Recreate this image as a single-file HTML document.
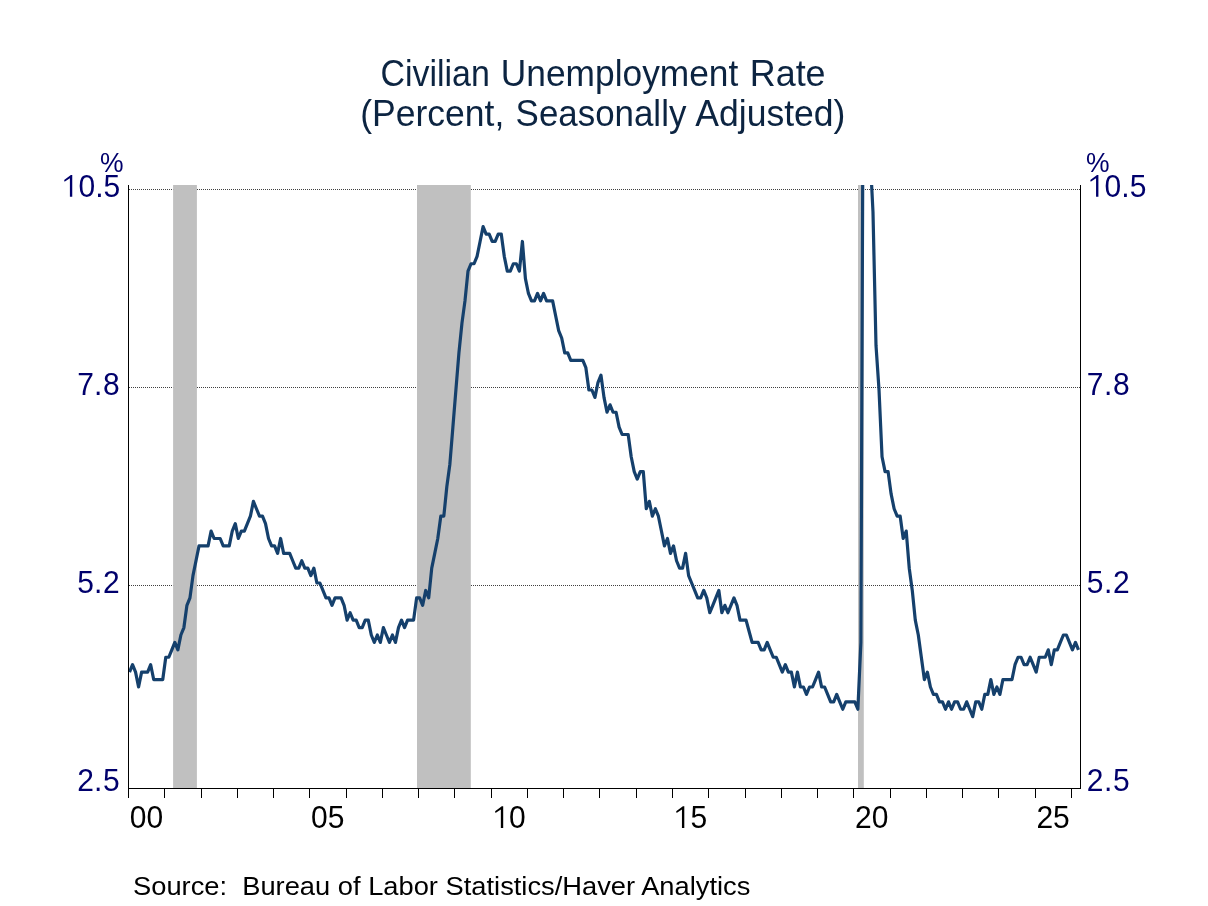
<!DOCTYPE html>
<html><head><meta charset="utf-8"><style>
html,body{margin:0;padding:0;background:#fff;width:1208px;height:906px;overflow:hidden}
svg{display:block;will-change:transform;font-family:"Liberation Sans",sans-serif}
</style></head><body>
<svg width="1208" height="906" viewBox="0 0 1208 906">
<rect width="1208" height="906" fill="#fff"/>
<g fill="#0c2441" font-size="35.4"><text transform="translate(380.38,85.7) scale(0.9591,1.05)">Civilian</text><text transform="translate(500.80,85.7) scale(0.9979,1.05)">Unemployment</text><text transform="translate(749.76,85.7) scale(1.0143,1.05)">Rate</text><text transform="translate(360.19,126.3) scale(1.0036,1.05)">(Percent,</text><text transform="translate(515.61,126.3) scale(0.9860,1.05)">Seasonally</text><text transform="translate(695.30,126.3) scale(1.0041,1.05)">Adjusted)</text></g>
<g stroke="#404040" stroke-width="1" stroke-dasharray="1 1" fill="none"><line x1="129" y1="189.5" x2="1080" y2="189.5"/><line x1="129" y1="387.5" x2="1080" y2="387.5"/><line x1="129" y1="585.5" x2="1080" y2="585.5"/></g>
<g fill="#c0c0c0">
<rect x="173.1" y="185" width="23.8" height="603"/>
<rect x="417.0" y="185" width="53.8" height="603"/>
<rect x="858.0" y="185" width="5.8" height="603"/>
</g>
<clipPath id="c"><rect x="128" y="185" width="953" height="603"/></clipPath>
<polyline clip-path="url(#c)" points="129.51,672.12 132.53,664.70 135.56,672.12 138.58,686.98 141.60,672.12 144.62,672.12 147.64,672.12 150.67,664.70 153.69,679.55 156.71,679.55 159.73,679.55 162.76,679.55 165.78,657.27 168.80,657.27 171.82,649.85 174.84,642.42 177.87,649.85 180.89,635.00 183.91,627.58 186.93,605.30 189.96,597.88 192.98,575.60 196.00,560.75 199.02,545.90 202.04,545.90 205.07,545.90 208.09,545.90 211.11,531.05 214.13,538.48 217.16,538.48 220.18,538.48 223.20,545.90 226.22,545.90 229.24,545.90 232.27,531.05 235.29,523.62 238.31,538.48 241.33,531.05 244.36,531.05 247.38,523.62 250.40,516.20 253.42,501.35 256.44,508.77 259.47,516.20 262.49,516.20 265.51,523.62 268.53,538.48 271.56,545.90 274.58,545.90 277.60,553.33 280.62,538.48 283.64,553.33 286.67,553.33 289.69,553.33 292.71,560.75 295.73,568.17 298.76,568.17 301.78,560.75 304.80,568.17 307.82,568.17 310.84,575.60 313.87,568.17 316.89,583.02 319.91,583.02 322.93,590.45 325.96,597.88 328.98,597.88 332.00,605.30 335.02,597.88 338.04,597.88 341.07,597.88 344.09,605.30 347.11,620.15 350.13,612.73 353.16,620.15 356.18,620.15 359.20,627.58 362.22,627.58 365.24,620.15 368.27,620.15 371.29,635.00 374.31,642.42 377.33,635.00 380.36,642.42 383.38,627.58 386.40,635.00 389.42,642.42 392.44,635.00 395.47,642.42 398.49,627.58 401.51,620.15 404.53,627.58 407.56,620.15 410.58,620.15 413.60,620.15 416.62,597.88 419.64,597.88 422.67,605.30 425.69,590.45 428.71,597.88 431.73,568.17 434.76,553.33 437.78,538.48 440.80,516.20 443.82,516.20 446.84,486.50 449.87,464.23 452.89,427.10 455.91,389.98 458.93,352.85 461.96,323.15 464.98,300.88 468.00,271.17 471.02,263.75 474.04,263.75 477.07,256.33 480.09,241.47 483.11,226.62 486.13,234.05 489.16,234.05 492.18,241.47 495.20,241.47 498.22,234.05 501.24,234.05 504.27,256.33 507.29,271.17 510.31,271.17 513.33,263.75 516.36,263.75 519.38,271.17 522.40,241.47 525.42,278.60 528.44,293.45 531.47,300.88 534.49,300.88 537.51,293.45 540.53,300.88 543.56,293.45 546.58,300.88 549.60,300.88 552.62,300.88 555.64,315.72 558.67,330.58 561.69,338.00 564.71,352.85 567.73,352.85 570.76,360.28 573.78,360.28 576.80,360.28 579.82,360.28 582.84,360.28 585.87,367.70 588.89,389.98 591.91,389.98 594.93,397.40 597.96,382.55 600.98,375.12 604.00,397.40 607.02,412.25 610.04,404.83 613.07,412.25 616.09,412.25 619.11,427.10 622.13,434.52 625.16,434.52 628.18,434.52 631.20,456.80 634.22,471.65 637.24,479.08 640.27,471.65 643.29,471.65 646.31,508.77 649.33,501.35 652.36,516.20 655.38,508.77 658.40,516.20 661.42,531.05 664.44,545.90 667.47,538.48 670.49,553.33 673.51,545.90 676.53,560.75 679.56,568.17 682.58,568.17 685.60,553.33 688.62,575.60 691.64,583.02 694.67,590.45 697.69,597.88 700.71,597.88 703.73,590.45 706.76,597.88 709.78,612.73 712.80,605.30 715.82,597.88 718.84,590.45 721.87,612.73 724.89,605.30 727.91,612.73 730.93,605.30 733.96,597.88 736.98,605.30 740.00,620.15 743.02,620.15 746.04,620.15 749.07,631.29 752.09,642.42 755.11,642.42 758.13,642.42 761.16,649.85 764.18,649.85 767.20,642.42 770.22,649.85 773.24,657.27 776.27,657.27 779.29,664.70 782.31,672.12 785.33,664.70 788.36,672.12 791.38,672.12 794.40,686.98 797.42,672.12 800.44,686.98 803.47,686.98 806.49,694.40 809.51,686.98 812.53,686.98 815.56,679.55 818.58,672.12 821.60,686.98 824.62,686.98 827.64,694.40 830.67,701.83 833.69,701.83 836.71,694.40 839.73,701.83 842.76,709.25 845.78,701.83 848.80,701.83 851.82,701.83 854.84,701.83 857.87,709.25 860.89,642.42 863.91,-129.78 866.93,-10.97 869.96,152.38 872.98,211.78 876.00,345.42 879.02,389.98 882.04,456.80 885.07,471.65 888.09,471.65 891.11,493.92 894.13,508.77 897.16,516.20 900.18,516.20 903.20,538.48 906.22,531.05 909.24,568.17 912.27,590.45 915.29,620.15 918.31,635.00 921.33,657.27 924.36,679.55 927.38,672.12 930.40,686.98 933.42,694.40 936.44,694.40 939.47,701.83 942.49,701.83 945.51,709.25 948.53,701.83 951.56,709.25 954.58,701.83 957.60,701.83 960.62,709.25 963.64,709.25 966.67,701.83 969.69,709.25 972.71,716.67 975.73,701.83 978.76,701.83 981.78,709.25 984.80,694.40 987.82,694.40 990.84,679.55 993.87,694.40 996.89,686.98 999.91,694.40 1002.93,679.55 1005.96,679.55 1008.98,679.55 1012.00,679.55 1015.02,664.70 1018.04,657.27 1021.07,657.27 1024.09,664.70 1027.11,664.70 1030.13,657.27 1033.16,664.70 1036.18,672.12 1039.20,657.27 1042.22,657.27 1045.24,657.27 1048.27,649.85 1051.29,664.70 1054.31,649.85 1057.33,649.85 1060.36,642.42 1063.38,635.00 1066.40,635.00 1069.42,642.42 1072.44,649.85 1075.47,642.42 1078.49,649.85" fill="none" stroke="#15406c" stroke-width="3.2" stroke-linejoin="round"/>
<g stroke="#000" stroke-width="1" shape-rendering="crispEdges">
<line x1="128.5" y1="185" x2="128.5" y2="798"/>
<line x1="1080.5" y1="185" x2="1080.5" y2="789"/>
<line x1="128" y1="788.5" x2="1081" y2="788.5"/>
</g>
<g stroke="#000" stroke-width="1" shape-rendering="crispEdges" transform="translate(0.5,0)"><line x1="164.27" y1="789" x2="164.27" y2="798"/><line x1="200.53" y1="789" x2="200.53" y2="798"/><line x1="236.80" y1="789" x2="236.80" y2="798"/><line x1="273.07" y1="789" x2="273.07" y2="798"/><line x1="309.33" y1="789" x2="309.33" y2="798"/><line x1="345.60" y1="789" x2="345.60" y2="798"/><line x1="381.87" y1="789" x2="381.87" y2="798"/><line x1="418.13" y1="789" x2="418.13" y2="798"/><line x1="454.40" y1="789" x2="454.40" y2="798"/><line x1="490.67" y1="789" x2="490.67" y2="798"/><line x1="526.93" y1="789" x2="526.93" y2="798"/><line x1="563.20" y1="789" x2="563.20" y2="798"/><line x1="599.47" y1="789" x2="599.47" y2="798"/><line x1="635.73" y1="789" x2="635.73" y2="798"/><line x1="672.00" y1="789" x2="672.00" y2="798"/><line x1="708.27" y1="789" x2="708.27" y2="798"/><line x1="744.53" y1="789" x2="744.53" y2="798"/><line x1="780.80" y1="789" x2="780.80" y2="798"/><line x1="817.07" y1="789" x2="817.07" y2="798"/><line x1="853.33" y1="789" x2="853.33" y2="798"/><line x1="889.60" y1="789" x2="889.60" y2="798"/><line x1="925.87" y1="789" x2="925.87" y2="798"/><line x1="962.13" y1="789" x2="962.13" y2="798"/><line x1="998.40" y1="789" x2="998.40" y2="798"/><line x1="1034.67" y1="789" x2="1034.67" y2="798"/><line x1="1070.93" y1="789" x2="1070.93" y2="798"/></g>
<g fill="#00006c" font-size="30"><text transform="translate(120.3,196.7) scale(1,1.05)" text-anchor="end">0.5</text><path fill="#00006c" d="M72.25,196.70 L69.90,196.70 L69.90,178.20 L64.55,181.80 L64.15,180.00 L70.85,174.90 L72.25,174.90Z"/><text transform="translate(119.6,394.7) scale(1,1.05)" text-anchor="end">7.<tspan dx="0.6">8</tspan></text><text transform="translate(119.6,592.7) scale(1,1.05)" text-anchor="end">5.<tspan dx="0.6">2</tspan></text><text transform="translate(119.6,790.7) scale(1,1.05)" text-anchor="end">2.<tspan dx="0.6">5</tspan></text><text transform="translate(1104.38,196.7) scale(1,1.05)" letter-spacing="0.2">0.5</text><path fill="#00006c" d="M1098.40,196.70 L1096.05,196.70 L1096.05,178.20 L1090.70,181.80 L1090.30,180.00 L1097.00,174.90 L1098.40,174.90Z"/><text transform="translate(1086.7,394.7) scale(1,1.05)" letter-spacing="0.7">7.8</text><text transform="translate(1086.7,592.7) scale(1,1.05)" letter-spacing="0.7">5.2</text><text transform="translate(1086.7,790.7) scale(1,1.05)" letter-spacing="0.7">2.5</text></g>
<g fill="#00006c" font-size="26.5"><text transform="translate(100,172) scale(1,1.05)">%</text><text transform="translate(1086,172) scale(1,1.05)">%</text></g>
<g fill="#000" font-size="30"><text transform="translate(146.43,828.0) scale(1,1.05)" text-anchor="middle">00</text><text transform="translate(327.77,828.0) scale(1,1.05)" text-anchor="middle">05</text><text transform="translate(509.10,828.0) scale(1,1.05)">0</text><path fill="#000" d="M503.20,828.00 L500.85,828.00 L500.85,809.50 L495.50,813.10 L495.10,811.30 L501.80,806.20 L503.20,806.20Z"/><text transform="translate(690.43,828.0) scale(1,1.05)">5</text><path fill="#000" d="M684.30,828.00 L681.95,828.00 L681.95,809.50 L676.60,813.10 L676.20,811.30 L682.90,806.20 L684.30,806.20Z"/><text transform="translate(871.77,828.0) scale(1,1.05)" text-anchor="middle">20</text><text transform="translate(1053.10,828.0) scale(1,1.05)" text-anchor="middle">25</text></g>
<g fill="#000" font-size="27.3"><text transform="translate(133,895.2) scale(1,0.96)" xml:space="preserve">Source:  Bureau of Labor Statistics/Haver Analytics</text></g>
</svg>
</body></html>
